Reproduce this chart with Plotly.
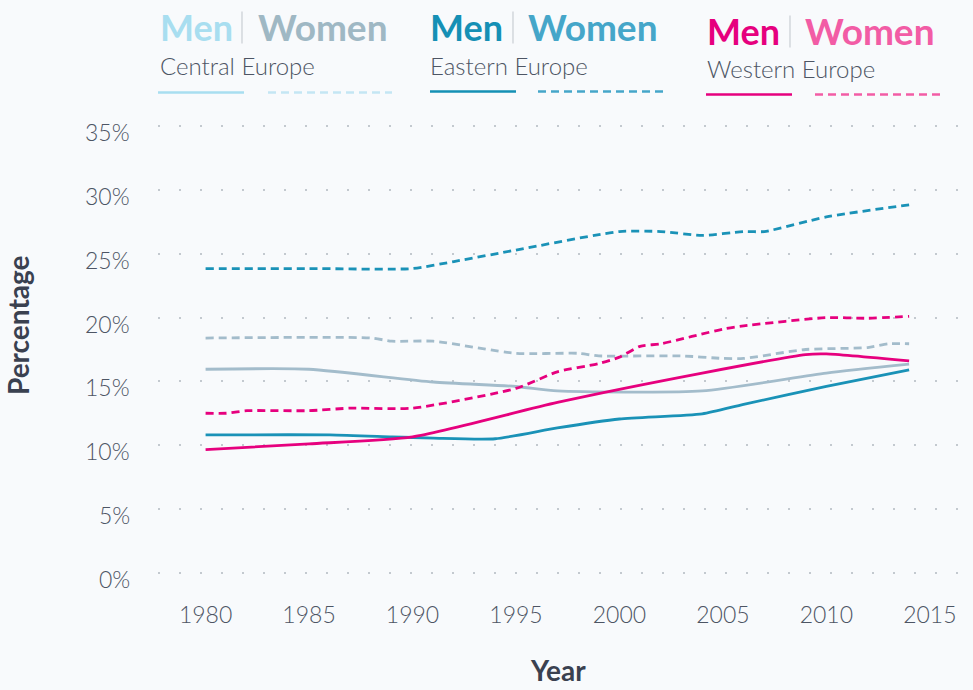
import plotly.graph_objects as go

# ---------------- data ----------------
cm_years = [1980, 1985, 1991, 1995, 1997, 2004, 2010, 2014]
cm_vals = [15.95, 15.95, 14.95, 14.6, 14.25, 14.25, 15.65, 16.35]

cw_years = [1980, 1988, 1989, 1991, 1995, 1998, 1999, 2003, 2005, 2006, 2009, 2012, 2013, 2014]
cw_vals = [18.4, 18.4, 18.15, 18.15, 17.2, 17.2, 17.0, 17.0, 16.8, 16.8, 17.5, 17.65, 17.95, 17.95]

em_years = [1980, 1986, 1989, 1991, 1994, 1997, 2000, 2004, 2006, 2010, 2014]
em_vals = [10.8, 10.8, 10.65, 10.55, 10.5, 11.35, 12.05, 12.45, 13.2, 14.6, 15.9]

ew_years = [1980, 1985, 1990, 1992, 1995, 2000, 2002, 2004, 2006, 2007, 2010, 2014]
ew_vals = [23.85, 23.85, 23.85, 24.4, 25.3, 26.75, 26.75, 26.45, 26.75, 26.75, 27.9, 28.85]

wm_years = [1980, 1985, 1990, 1997, 2004, 2009, 2010, 2014]
wm_vals = [9.65, 10.1, 10.65, 13.35, 15.65, 17.1, 17.15, 16.6]

ww_years = [1980, 1981, 1982, 1985, 1987, 1990, 1995, 1997, 1999, 2000, 2001, 2002, 2005, 2006, 2010, 2012, 2014]
ww_vals = [12.5, 12.5, 12.7, 12.7, 12.9, 12.9, 14.45, 15.75, 16.4, 16.9, 17.75, 17.95, 19.1, 19.35, 20.0, 19.95, 20.1]

x_ticks = [1980, 1985, 1990, 1995, 2000, 2005, 2010, 2015]
y_ticks = [0, 5, 10, 15, 20, 25, 30, 35]
y_tick_labels = ["0%", "5%", "10%", "15%", "20%", "25%", "30%", "35%"]

groups = ["Central Europe", "Eastern Europe", "Western Europe"]

# ---------------- styling ----------------
BLUE = "#1a92b7"
PINK = "#e6007e"
GRAY = "#a3bccb"
FONT = "Lato"
TEXT = "#4d5564"

W, H = 973, 690
L, R = 158, 965
T_PX, B_PX = 119.6, 579.4


def px(x):
    return (x - L) / (R - L)


def py(y):
    return (B_PX - y) / (B_PX - T_PX)


fig = go.Figure()

series = [
    (cw_years, cw_vals, GRAY, "dash", "Central Europe – Women"),
    (cm_years, cm_vals, GRAY, "solid", "Central Europe – Men"),
    (ew_years, ew_vals, BLUE, "dash", "Eastern Europe – Women"),
    (em_years, em_vals, BLUE, "solid", "Eastern Europe – Men"),
    (ww_years, ww_vals, PINK, "dash", "Western Europe – Women"),
    (wm_years, wm_vals, PINK, "solid", "Western Europe – Men"),
]
for xs, ys, col, dash, name in series:
    fig.add_trace(go.Scatter(
        x=xs, y=ys, mode="lines", name=name,
        line=dict(color=col, width=2.8, dash="8px,5px" if dash == "dash" else "solid",
                  shape="spline", smoothing=0.6),
        hoverinfo="x+y+name", showlegend=False,
    ))

# ---------------- custom legend ----------------
legend = [
    (160, 258, 242, 27, 66, 92, "#a8def0", "#9fb8c4", (158, 244), (268, 392), "#a8def0", "#c4e6f3"),
    (430, 528, 513, 27, 66, 91, "#1590b5", "#45a6c9", (430, 516), (538, 664), "#1590b5", "#45a6c9"),
    (707, 805, 790, 31, 69, 94, "#e6007e", "#f25ca5", (706, 792), (815, 940), "#e6007e", "#f25ca5"),
]
for (mx, wx, sx, yh, ys_, yl, mc, wc, sol, dsh, lc1, lc2), gname in zip(legend, groups):
    fig.add_annotation(x=px(mx - 2), y=py(yh - 1), xref="paper", yref="paper", text="<b>Men</b>",
                       showarrow=False, xanchor="left", yanchor="middle",
                       font=dict(family=FONT, size=36, color=mc))
    fig.add_annotation(x=px(wx - 2), y=py(yh - 1), xref="paper", yref="paper", text="<b>Women</b>",
                       showarrow=False, xanchor="left", yanchor="middle",
                       font=dict(family=FONT, size=37, color=wc))
    fig.add_shape(type="line", xref="paper", yref="paper",
                  x0=px(sx), x1=px(sx), y0=py(yh - 16), y1=py(yh + 16),
                  line=dict(color="#c9ced3", width=1.2))
    fig.add_annotation(x=px(mx - 2), y=py(ys_ - 1), xref="paper", yref="paper", text=gname,
                       showarrow=False, xanchor="left", yanchor="middle",
                       font=dict(family=FONT, size=24, color=TEXT, weight=300))
    fig.add_shape(type="line", xref="paper", yref="paper",
                  x0=px(sol[0]), x1=px(sol[1]), y0=py(yl), y1=py(yl),
                  line=dict(color=lc1, width=2.6))
    fig.add_shape(type="line", xref="paper", yref="paper",
                  x0=px(dsh[0]), x1=px(dsh[1]), y0=py(yl), y1=py(yl),
                  line=dict(color=lc2, width=2.6, dash="8px,5px"))

# y tick labels (sit slightly below their gridlines, as in the reference)
for v, lab in zip(y_ticks, y_tick_labels):
    fig.add_annotation(x=px(132), y=v, xref="paper", yref="y", text=lab, showarrow=False,
                       xanchor="right", yanchor="middle", yshift=-6,
                       font=dict(family=FONT, size=23, color=TEXT, weight=300))

# axis titles
fig.add_annotation(x=px(18), y=py(325), xref="paper", yref="paper", text="<b>Percentage</b>",
                   showarrow=False, textangle=-90, xanchor="center", yanchor="middle",
                   font=dict(family=FONT, size=28, color="#3a4150"))
fig.add_annotation(x=px(558), y=py(690), xref="paper", yref="paper", text="<b>Year</b>",
                   showarrow=False, xanchor="center", yanchor="bottom",
                   font=dict(family=FONT, size=28, color="#3a4150"))

fig.update_layout(
    width=W, height=H,
    margin=dict(l=L, r=W - R, t=T_PX, b=H - B_PX, pad=0),
    paper_bgcolor="#f8fafc", plot_bgcolor="rgba(0,0,0,0)",
    font=dict(family=FONT, color=TEXT),
    showlegend=False,
    xaxis=dict(range=[1977.7, 2016.7], tickvals=x_ticks, showgrid=False, zeroline=False,
               showline=False, ticks="", ticklabelstandoff=20,
               tickfont=dict(family=FONT, size=23, color=TEXT, weight=300)),
    yaxis=dict(range=[-0.5, 35.5], tickvals=y_ticks, showticklabels=False,
               showgrid=True, gridcolor="#c3c9cf", gridwidth=2, griddash="2px,19px",
               zeroline=False, showline=False, ticks=""),
)

fig.write_html("out.html", config={"displayModeBar": False},
               post_script="document.body.style.margin='0';document.body.style.background='#f8fafc';")
